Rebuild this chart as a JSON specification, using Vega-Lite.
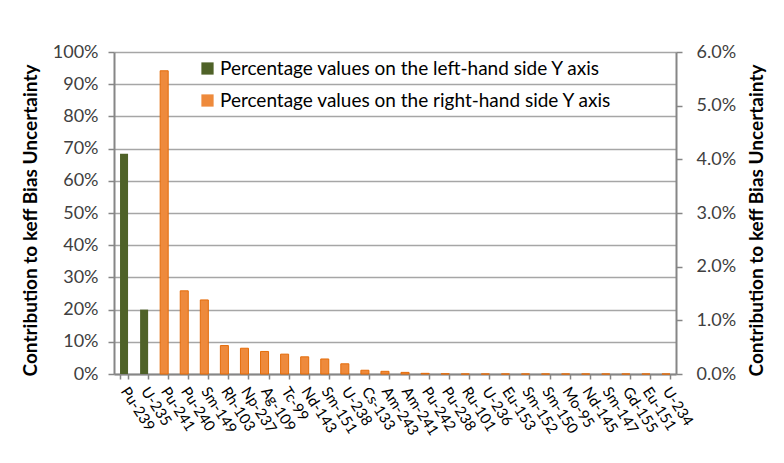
{
  "$schema": "https://vega.github.io/schema/vega-lite/v6.json",
  "width": 562,
  "height": 322,
  "autosize": {"type": "none"},
  "padding": {"left": 114, "top": 52, "right": 108, "bottom": 89},
  "background": "white",
  "config": {
    "view": {"stroke": null},
    "font": "Lato",
    "axis": {"labelFont": "Lato", "titleFont": "Lato", "labelColor": "#404040", "titleColor": "black"}
  },
  "data": {
    "values": [
      {"nuclide": "Pu-239", "side": "left", "value": 0.684},
      {"nuclide": "U-235", "side": "left", "value": 0.20},
      {"nuclide": "Pu-241", "side": "right", "value": 0.0565},
      {"nuclide": "Pu-240", "side": "right", "value": 0.0155},
      {"nuclide": "Sm-149", "side": "right", "value": 0.0138},
      {"nuclide": "Rh-103", "side": "right", "value": 0.0053},
      {"nuclide": "Np-237", "side": "right", "value": 0.0048},
      {"nuclide": "Ag-109", "side": "right", "value": 0.0042},
      {"nuclide": "Tc-99", "side": "right", "value": 0.0037},
      {"nuclide": "Nd-143", "side": "right", "value": 0.0032},
      {"nuclide": "Sm-151", "side": "right", "value": 0.0028},
      {"nuclide": "U-238", "side": "right", "value": 0.0019},
      {"nuclide": "Cs-133", "side": "right", "value": 0.0007},
      {"nuclide": "Am-243", "side": "right", "value": 0.0005},
      {"nuclide": "Am-241", "side": "right", "value": 0.0003},
      {"nuclide": "Pu-242", "side": "right", "value": 0.00012},
      {"nuclide": "Pu-238", "side": "right", "value": 0.00004},
      {"nuclide": "Ru-101", "side": "right", "value": 0},
      {"nuclide": "U-236", "side": "right", "value": 0},
      {"nuclide": "Eu-153", "side": "right", "value": 0},
      {"nuclide": "Sm-152", "side": "right", "value": 0},
      {"nuclide": "Sm-150", "side": "right", "value": 0},
      {"nuclide": "Mo-95", "side": "right", "value": 0},
      {"nuclide": "Nd-145", "side": "right", "value": 0},
      {"nuclide": "Sm-147", "side": "right", "value": 0},
      {"nuclide": "Gd-155", "side": "right", "value": 0},
      {"nuclide": "Eu-151", "side": "right", "value": 0},
      {"nuclide": "U-234", "side": "right", "value": 0}
    ]
  },
  "encoding": {
    "x": {
      "field": "nuclide",
      "type": "nominal",
      "sort": null,
      "scale": {"paddingInner": 0.6, "paddingOuter": 0.3},
      "axis": {
        "title": null,
        "labelAngle": 57,
        "labelAlign": "left",
        "labelBaseline": "middle",
        "labelFontSize": 15,
        "labelColor": "black",
        "labelPadding": 9,
        "tickBand": "extent",
        "tickSize": 5,
        "tickColor": "#868686",
        "tickWidth": 1.5,
        "domainColor": "#868686",
        "domainWidth": 2,
        "grid": false
      }
    },
    "color": {
      "field": "series",
      "type": "nominal",
      "scale": {
        "domain": ["Percentage values on the left-hand side Y axis", "Percentage values on the right-hand side Y axis"],
        "range": ["#4F6228", "#EE8A3C"]
      },
      "legend": {
        "title": null,
        "orient": "none",
        "legendX": 84,
        "legendY": 7,
        "symbolType": "square",
        "symbolSize": 150,
        "symbolStrokeWidth": 0,
        "labelFontSize": 19,
        "labelFont": "Lato",
        "labelColor": "black",
        "labelOffset": 3,
        "rowPadding": 12,
        "labelLimit": 600
      }
    }
  },
  "layer": [
    {
      "transform": [
        {"filter": "datum.side === 'left'"},
        {"calculate": "'Percentage values on the left-hand side Y axis'", "as": "series"}
      ],
      "mark": {"type": "bar"},
      "encoding": {
        "y": {
          "field": "value",
          "type": "quantitative",
          "scale": {"domain": [0, 1], "nice": false},
          "axis": {
            "title": "Contribution to keff Bias Uncertainty",
            "titleFontSize": 19,
            "titleFontWeight": "bold",
            "titlePadding": 12,
            "titleY": 168,
            "format": ".0%",
            "values": [0, 0.1, 0.2, 0.3, 0.4, 0.5, 0.6, 0.7, 0.8, 0.9, 1.0],
            "labelFontSize": 18,
            "labelPadding": 10,
            "tickSize": 6,
            "tickColor": "#868686",
            "tickWidth": 1.5,
            "domainColor": "#868686",
            "domainWidth": 2,
            "grid": true,
            "gridColor": "#A6A6A6",
            "gridWidth": 1.5
          }
        }
      }
    },
    {
      "transform": [
        {"filter": "datum.side === 'right'"},
        {"calculate": "'Percentage values on the right-hand side Y axis'", "as": "series"}
      ],
      "mark": {"type": "bar", "stroke": "#E46C0A", "strokeWidth": 1},
      "encoding": {
        "y": {
          "field": "value",
          "type": "quantitative",
          "scale": {"domain": [0, 0.06], "nice": false},
          "axis": {
            "orient": "right",
            "title": "Contribution to keff Bias Uncertainty",
            "titleAngle": 270,
            "titleBaseline": "top",
            "titleFontSize": 19,
            "titleFontWeight": "bold",
            "titlePadding": 12,
            "titleY": 168,
            "format": ".1%",
            "values": [0, 0.01, 0.02, 0.03, 0.04, 0.05, 0.06],
            "labelFontSize": 18,
            "labelPadding": 14,
            "tickSize": 6,
            "tickColor": "#868686",
            "tickWidth": 1.5,
            "domainColor": "#868686",
            "domainWidth": 2,
            "grid": false
          }
        }
      }
    }
  ],
  "resolve": {"scale": {"y": "independent"}}
}
